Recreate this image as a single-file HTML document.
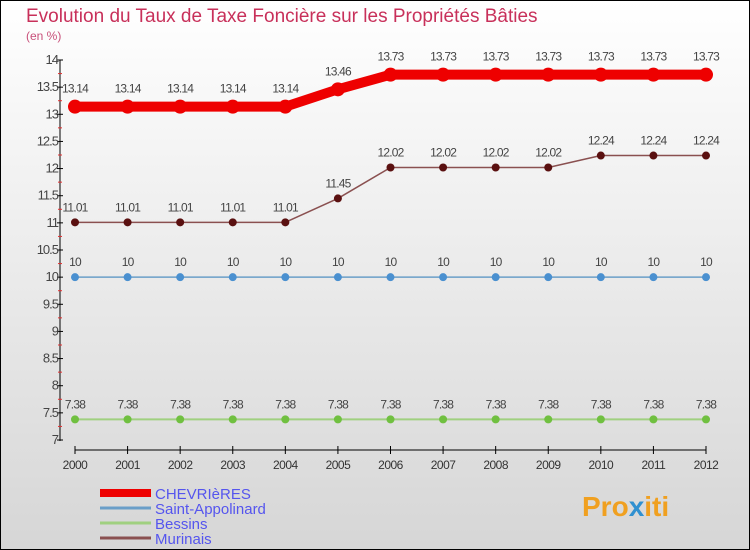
<!DOCTYPE html>
<html><head><meta charset="utf-8"><style>
html,body{margin:0;padding:0}
body{width:750px;height:550px;overflow:hidden;font-family:"Liberation Sans",sans-serif}
svg{display:block}
</style></head><body>
<svg id="chart" width="750" height="550" xmlns="http://www.w3.org/2000/svg">
<defs><linearGradient id="bg" x1="0" y1="0" x2="0" y2="1"><stop offset="0" stop-color="#ffffff"/><stop offset="1" stop-color="#d6d6d6"/></linearGradient></defs>
<rect x="0.5" y="0.5" width="749" height="549" fill="url(#bg)" stroke="#000"/>
<text x="26" y="22" font-size="19" fill="#c8305a" font-weight="normal">Evolution du Taux de Taxe Foncière sur les Propriétés Bâties</text>
<text x="26" y="40" font-size="12" fill="#c8507a">(en %)</text>
<g id="axes"></g><g id="series"></g><g id="legend"></g>
<text x="582" y="516" font-size="28" font-weight="bold" fill="#f0a020">Pro<tspan fill="#3090d0">x</tspan>iti</text>
</svg>
<script>
const years=[2000,2001,2002,2003,2004,2005,2006,2007,2008,2009,2010,2011,2012];
const chevrieres=[13.14,13.14,13.14,13.14,13.14,13.46,13.73,13.73,13.73,13.73,13.73,13.73,13.73];
const saintAppolinard=[10,10,10,10,10,10,10,10,10,10,10,10,10];
const bessins=[7.38,7.38,7.38,7.38,7.38,7.38,7.38,7.38,7.38,7.38,7.38,7.38,7.38];
const murinais=[11.01,11.01,11.01,11.01,11.01,11.45,12.02,12.02,12.02,12.02,12.24,12.24,12.24];
const yTicks=[7,7.5,8,8.5,9,9.5,10,10.5,11,11.5,12,12.5,13,13.5,14];
const seriesNames=["CHEVRIèRES","Saint-Appolinard","Bessins","Murinais"];
const NS="http://www.w3.org/2000/svg";
const x=i=>75+i*(706-75)/(years.length-1);
const y=v=>440-(v-7)*(440-60)/7;
function mk(tag,attrs,parent,txt){const e=document.createElementNS(NS,tag);for(const k in attrs)e.setAttribute(k,attrs[k]);if(txt!==undefined)e.textContent=txt;parent.appendChild(e);return e;}
const axes=document.getElementById('axes');
let e=mk('line',{x1:60,y1:60,x2:60,y2:441,stroke:'#000'},axes);


e=mk('line',{x1:75,y1:450,x2:706,y2:450,stroke:'#000'},axes);


yTicks.forEach((t,k)=>{
  mk('line',{x1:57,x2:63,y1:y(t),y2:y(t),stroke:'#000'},axes);
  if(k<yTicks.length-1) mk('line',{x1:58,x2:62,y1:y(t+0.25),y2:y(t+0.25),stroke:'#e03030'},axes);
  const l=mk('text',{x:58,y:y(t)+4,'font-size':13,'text-anchor':'end',fill:'#444','letter-spacing':'-1'},axes,String(t));
  
  
});
years.forEach((yr,i)=>{
  mk('line',{x1:x(i),x2:x(i),y1:446,y2:454,stroke:'#000'},axes);
  const l=mk('text',{x:x(i),y:469,'font-size':12,'text-anchor':'middle',fill:'#333','letter-spacing':'-0.5'},axes,String(yr));
  
  
});
const sg=document.getElementById('series');
const defs=[
 {d:bessins,line:'#a0d080',w:2,dot:'#70c040',r:4,name:'bessins'},
 {d:saintAppolinard,line:'#6a9ec8',w:1.5,dot:'#4a90d0',r:4,name:'saint-appolinard'},
 {d:murinais,line:'#8a5050',w:1.5,dot:'#5a1010',r:4,name:'murinais'},
 {d:chevrieres,line:'#ee0000',w:10,dot:'#ee0000',r:7,name:'chevrieres'}];
defs.forEach(s=>{
  const p=mk('polyline',{points:s.d.map((v,i)=>x(i)+','+y(v)).join(' '),fill:'none',stroke:s.line,'stroke-width':s.w,'stroke-linejoin':'round'},sg);
  
  
  s.d.forEach((v,i)=>{
    const c=mk('circle',{cx:x(i),cy:y(v),r:s.r,fill:s.dot},sg);
    
    
    const t=mk('text',{x:x(i),y:y(v)-(s.r+7),'font-size':12,'text-anchor':'middle',fill:'#444','letter-spacing':'-0.8'},sg,String(v));
    
    
  });
});
const lg=document.getElementById('legend');
const lcol=['#ee0000','#6a9ec8','#a0d080','#8a5050'],lw=[8,3,3,3];
seriesNames.forEach((n,i)=>{
  const yy=493+i*15;
  const l=mk('line',{x1:100,x2:151,y1:yy,y2:yy,stroke:lcol[i],'stroke-width':lw[i]},lg);
  
  
  const t=mk('text',{x:155,y:yy+6,'font-size':15,fill:'#5555ee'},lg,n);
  
  
});
</script>
</body></html>
